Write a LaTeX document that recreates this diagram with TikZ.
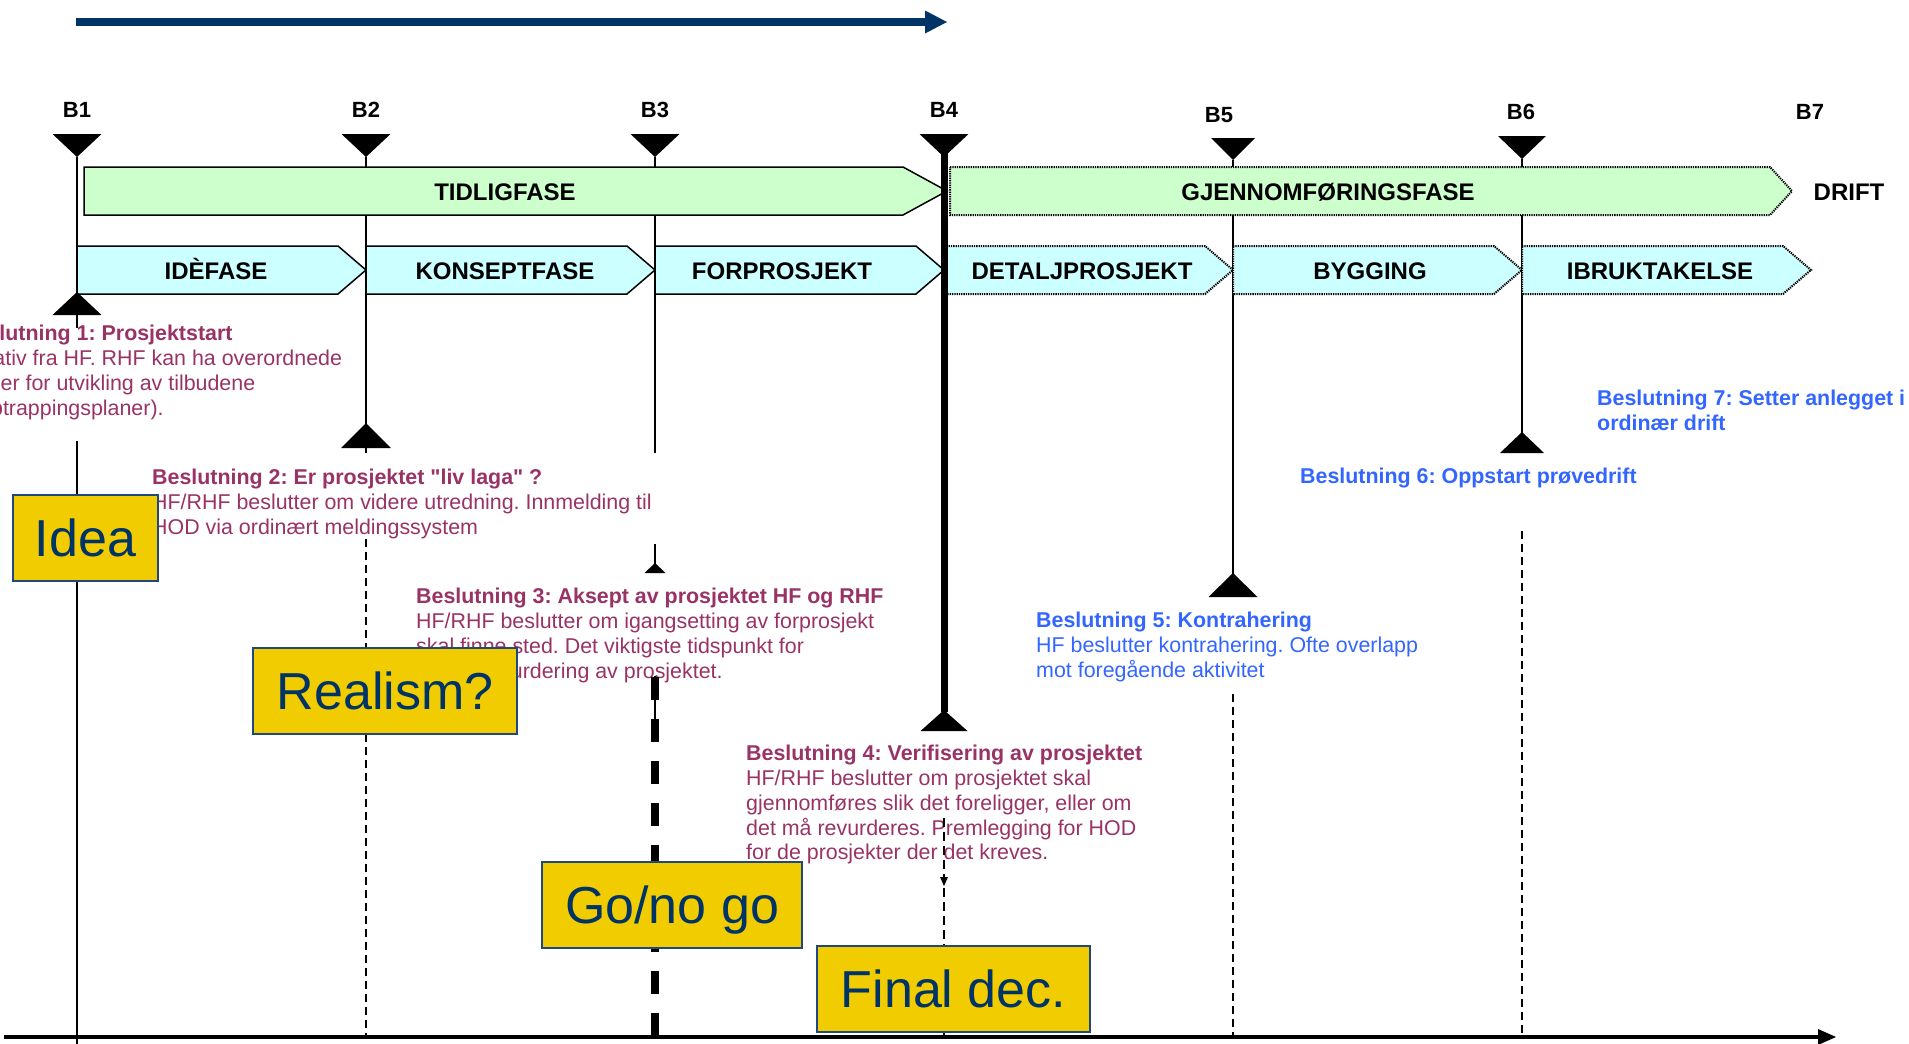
\documentclass[tikz,border=0pt]{standalone}
\usepackage{fontspec}
\setmainfont{Liberation Sans}
\newfontfamily\nolig{Liberation Sans}
\usetikzlibrary{arrows.meta}
\definecolor{navy}{RGB}{0,51,102}
\definecolor{plum}{RGB}{153,51,102}
\definecolor{dblue}{RGB}{51,102,255}
\definecolor{pgreen}{RGB}{204,255,204}
\definecolor{pcyan}{RGB}{204,255,255}
\definecolor{gold}{RGB}{240,204,0}
\definecolor{boxedge}{RGB}{31,73,125}
\newcommand{\dtri}[4]{\fill (#1-#4/2,#2) -- (#1+#4/2,#2) -- (#1,#3) -- cycle;}
\newcommand{\utri}[4]{\fill (#1,#2) -- (#1+#4/2,#3) -- (#1-#4/2,#3) -- cycle;}
\frenchspacing
\begin{document}
\begin{tikzpicture}[x=1pt,y=-1pt,
  vline/.style={line width=1.6pt},
  dline/.style={line width=2.6pt,dash pattern=on 8pt off 5pt},
  solidband/.style={draw=black,line width=1.5pt,line join=miter},
  dotband/.style={draw=black,line width=2pt,dash pattern=on 1.3pt off 1pt},
  blabel/.style={font=\fontsize{22}{26}\selectfont\bfseries,anchor=base,inner sep=0pt},
  phaselabel/.style={font=\fontsize{24}{28}\selectfont\bfseries,anchor=base,inner sep=0pt},
  dectext/.style={font=\fontsize{21.4}{24.8}\selectfont\frenchspacing,align=left,anchor=north west,inner sep=0pt},
  decearly/.style={dectext,text=plum},
  declate/.style={dectext,text=dblue},
  ybox/.style={draw=boxedge,line width=2pt,fill=gold,text=navy,font=\fontsize{52}{60}\selectfont,minimum height=86pt,inner sep=0pt,text height=37pt,text depth=0pt},
]
\clip (0,0) rectangle (1909,1044);
\fill[white] (0,0) rectangle (1909,1044);

% top arrow
\fill[navy] (76,18) rectangle (926,26);
\fill[navy] (925,10.5) -- (947,22) -- (925,33.5) -- cycle;

% thin milestone lines
\draw[vline] (77,157) -- (77,328);
\draw[vline] (77,441) -- (77,1044);
\draw[vline] (366,157) -- (366,453);
\draw[dline] (366,539) -- (366,1036);
\draw[vline] (655,157) -- (655,453);
\draw[vline] (655,544) -- (655,565);
\draw[vline] (1233,160) -- (1233,575);
\draw[dline] (1233,694) -- (1233,1036);
\draw[vline] (1522,159) -- (1522,434);
\draw[dline] (1522,531) -- (1522,1036);

% phase bands
\path[solidband,fill=pgreen] (84,167) -- (903,167) -- (947,191) -- (903,215) -- (84,215) -- cycle;
\path[dotband,fill=pgreen] (950,167) -- (1770,167) -- (1792,191) -- (1770,215) -- (950,215) -- cycle;
\path[solidband,fill=pcyan] (77,246) -- (338,246) -- (366,270) -- (338,294) -- (77,294) -- cycle;
\path[solidband,fill=pcyan] (366,246) -- (627,246) -- (655,270) -- (627,294) -- (366,294) -- cycle;
\path[solidband,fill=pcyan] (655,246) -- (916,246) -- (944,270) -- (916,294) -- (655,294) -- cycle;
\path[dotband,fill=pcyan] (944,246) -- (1205,246) -- (1233,270) -- (1205,294) -- (944,294) -- cycle;
\path[dotband,fill=pcyan] (1233,246) -- (1494,246) -- (1522,270) -- (1494,294) -- (1233,294) -- cycle;
\path[dotband,fill=pcyan] (1522,246) -- (1783,246) -- (1811,270) -- (1783,294) -- (1522,294) -- cycle;

% B4 thick line
\draw[line width=7pt] (944,150) -- (944,712);

% triangles
\dtri{77}{134}{157}{49}
\dtri{366}{134}{157}{49}
\dtri{655}{134}{157}{49}
\dtri{944}{134}{157}{49}
\dtri{1233}{138}{160}{44}
\dtri{1522}{136}{159}{48}
\utri{77}{292}{315}{49}
\utri{366}{423}{448}{50}
\utri{655}{563}{573}{21}
\utri{944}{710}{731}{47}
\utri{1233}{573}{597}{49}
\utri{1522}{432}{453}{44}

% milestone labels
\node[blabel] (lb1) at (77,117) {B1};
\node[blabel] (lb2) at (366,117) {B2};
\node[blabel] (lb3) at (655,117) {B3};
\node[blabel] (lb4) at (944,117) {B4};
\node[blabel] (lb5) at (1219,122) {B5};
\node[blabel] (lb6) at (1521,119) {B6};
\node[blabel] (lb7) at (1810,119) {B7};

% phase labels
\node[phaselabel] (tidlig) at (505,200) {TIDLIGFASE};
\node[phaselabel] (gjennom) at (1328,200) {GJENNOMFØRINGSFASE};
\node[phaselabel] (drift) at (1849,200) {DRIFT};
\node[phaselabel] (ide) at (216,279) {IDÈFASE};
\node[phaselabel] (konsept) at (505,279) {KONSEPTFASE};
\node[phaselabel] (forpro) at (782,279) {FORPROSJEKT};
\node[phaselabel] (detalj) at (1082,279) {DETALJPROSJEKT};
\node[phaselabel] (bygg) at (1370,279) {BYGGING};
\node[phaselabel] (ibruk) at (1660,279) {IBRUKTAKELSE};

% decision texts
\node[decearly] (d1) at (-40,325) {\textbf{Beslutning 1: Prosjektstart}\\Initiativ fra HF. RHF kan ha overordnede\\planer for utvikling av tilbudene\\(opptrappingsplaner).};
\node[decearly] (d2) at (152,469) {\textbf{Beslutning 2: Er prosjektet {\nolig"}liv laga{\nolig"} ?}\\HF/RHF beslutter om videre utredning. Innmelding til\\HOD via ordinært meldingssystem};
\node[decearly] (d3) at (416,588) {\textbf{Beslutning 3: Aksept av prosjektet HF og RHF}\\HF/RHF beslutter om igangsetting av forprosjekt\\skal finne sted. Det viktigste tidspunkt for\\\hspace*{84pt}vurdering av prosjektet.};
\node[decearly] (d4) at (746,745) {\textbf{Beslutning 4: Verifisering av prosjektet}\\HF/RHF beslutter om prosjektet skal\\gjennomføres slik det foreligger, eller om\\det må revurderes. Premlegging for HOD\\for de prosjekter der det kreves.};
\node[declate] (d5) at (1036,612) {\textbf{Beslutning 5: Kontrahering}\\HF beslutter kontrahering. Ofte overlapp\\mot foregående aktivitet};
\node[declate] (d6) at (1300,468) {\textbf{Beslutning 6: Oppstart prøvedrift}};
\node[declate] (d7) at (1597,390) {\textbf{Beslutning 7: Setter anlegget i}\\\textbf{ordinær drift}};

% lines drawn over texts
\draw[vline] (655,676) -- (655,720);
\draw[line width=8pt,dash pattern=on 23pt off 19pt] (655,677) -- (655,1036);
\draw[line width=2.6pt,dash pattern=on 9pt off 5pt] (944,818) -- (944,1036);
\fill (940,877) -- (948,877) -- (944,886) -- cycle;

% yellow boxes
\node[ybox,minimum width=145pt] (idea) at (85.5,537.5) {Idea};
\node[ybox,minimum width=264pt] (realism) at (385,691) {Realism?};
\node[ybox,minimum width=260pt] (gonogo) at (672,905) {Go/no go};
\node[ybox,minimum width=273pt] (final) at (953.5,989) {Final dec.};

% time axis
\draw[line width=4.5pt] (4,1037) -- (1820,1037);
\fill (1818,1029) -- (1836,1037) -- (1818,1045) -- cycle;
\end{tikzpicture}
\end{document}
